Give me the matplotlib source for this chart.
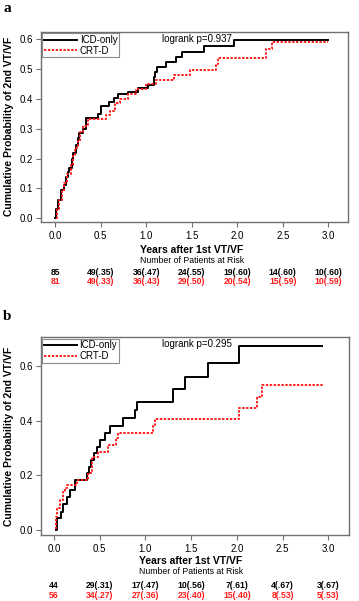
import matplotlib
matplotlib.use("Agg")
import matplotlib.pyplot as plt

plt.rcParams['font.family'] = ['Liberation Sans', 'DejaVu Sans']

# panel a: ICD-only (black) and CRT-D (red) cumulative curves
a_icd_t = [0, 0.01, 0.033, 0.06, 0.10, 0.118, 0.14, 0.154, 0.18, 0.20, 0.227, 0.245, 0.264, 0.30,
           0.337, 0.47, 0.50, 0.59, 0.64, 0.69, 0.80, 0.91, 1.02, 1.08, 1.10, 1.12, 1.22, 1.33,
           1.39, 1.63, 1.96, 3.0]
a_icd_p = [0, 0.033, 0.061, 0.095, 0.11, 0.139, 0.155, 0.167, 0.20, 0.217, 0.245, 0.27, 0.284, 0.30,
           0.336, 0.349, 0.375, 0.389, 0.403, 0.417, 0.424, 0.435, 0.446, 0.474, 0.49, 0.505, 0.523,
           0.538, 0.556, 0.575, 0.595, 0.595]
a_crt_t = [0.01, 0.02, 0.04, 0.07, 0.10, 0.13, 0.17, 0.20, 0.22, 0.245, 0.27, 0.30, 0.36, 0.56,
           0.60, 0.66, 0.71, 0.80, 0.89, 1.00, 1.11, 1.30, 1.48, 1.77, 1.79, 2.32, 2.38, 3.0]
a_crt_p = [0, 0.03, 0.06, 0.09, 0.12, 0.15, 0.18, 0.21, 0.235, 0.26, 0.29, 0.31, 0.333, 0.345,
           0.36, 0.385, 0.40, 0.417, 0.431, 0.448, 0.463, 0.479, 0.496, 0.515, 0.537, 0.565, 0.589, 0.589]

# panel b
b_icd_t = [0.022, 0.03, 0.073, 0.10, 0.139, 0.175, 0.23, 0.357, 0.386, 0.41, 0.4375, 0.467, 0.503,
           0.558, 0.61, 0.75, 0.89, 0.91, 1.30, 1.43, 1.69, 2.02, 2.93]
b_icd_p = [0, 0.043, 0.067, 0.097, 0.122, 0.146, 0.183, 0.207, 0.231, 0.256, 0.28, 0.304, 0.329,
           0.353, 0.38, 0.408, 0.438, 0.469, 0.514, 0.558, 0.609, 0.673, 0.673]
b_crt_t = [0.01, 0.02, 0.036, 0.066, 0.10, 0.12, 0.139, 0.248, 0.375, 0.42, 0.485, 0.59, 0.68,
           0.70, 1.086, 1.10, 2.02, 2.22, 2.27, 2.94]
b_crt_p = [0.006, 0.049, 0.079, 0.11, 0.14, 0.152, 0.164, 0.183, 0.207, 0.268, 0.286, 0.31, 0.335,
           0.355, 0.38, 0.405, 0.444, 0.487, 0.53, 0.53]

x_ticks = [0.0, 0.5, 1.0, 1.5, 2.0, 2.5, 3.0]
a_risk_icd = ['85', '49(.35)', '36(.47)', '24(.55)', '19(.60)', '14(.60)', '10(.60)']
a_risk_crt = ['81', '49(.33)', '36(.43)', '29(.50)', '20(.54)', '15(.59)', '10(.59)']
b_risk_icd = ['44', '29(.31)', '17(.47)', '10(.56)', '7(.61)', '4(.67)', '3(.67)']
b_risk_crt = ['56', '34(.27)', '27(.36)', '23(.40)', '15(.40)', '8(.53)', '5(.53)']

W, H = 359, 601
fig = plt.figure(figsize=(W / 100, H / 100), dpi=100)

RED = '#ff1a1a'
GRAY = '#707070'


def panel(rect, label, label_y, icd_t, icd_p, crt_t, crt_p, xlim, ylim, yticks, pval,
          xlab_y, risk_y1, risk_y2, risk_icd, risk_crt):
    ax = fig.add_axes(rect)
    ax.step(icd_t, icd_p, where='post', color='black', lw=1.4, label='ICD-only')
    ax.step(crt_t, crt_p, where='post', color=RED, lw=1.4, ls=(0, (1.2, 0.8)), label='CRT-D')
    ax.set_xlim(*xlim)
    ax.set_ylim(*ylim)
    ax.set_xticks(x_ticks)
    ax.set_xticklabels(['%.1f' % v for v in x_ticks])
    ax.set_yticks(yticks)
    ax.set_yticklabels(['%.1f' % v for v in yticks])
    ax.tick_params(labelsize=7, length=3.5, color=GRAY, width=0.8, pad=2)
    ax.tick_params(axis='x', pad=3)
    for s in ax.spines.values():
        s.set_color(GRAY)
        s.set_linewidth(1.0)
    leg = ax.legend(loc='upper left', fontsize=7, frameon=True, fancybox=False,
                    borderpad=0.15, handlelength=3.4, handletextpad=0.3, labelspacing=0.1,
                    borderaxespad=0.15)
    leg.get_frame().set_edgecolor(GRAY)
    leg.get_frame().set_linewidth(0.8)
    ax.text(1.56, ylim[1] - (ylim[1] - ylim[0]) * 0.036, 'logrank p=' + pval, fontsize=7,
            ha='center', va='center')
    ax.set_ylabel('Cumulative Probability of 2nd VT/VF', fontsize=7.5, fontweight='bold', labelpad=4)
    fig.text(3 / W, 1 - label_y / H, label, fontsize=11, fontweight='bold', family='Liberation Serif',
             va='center', ha='left')

    # axis title and risk table placed in figure pixel rows
    def xfig(v):
        return ax.transData.transform((v, 0))[0] / W
    fig.text(xfig(1.5), 1 - xlab_y / H, 'Years after 1st VT/VF', fontsize=7.5, fontweight='bold',
             ha='center', va='center')
    fig.text(xfig(1.5), 1 - (xlab_y + 10.5) / H, 'Number of Patients at Risk', fontsize=6.3,
             ha='center', va='center')
    for v, s1, s2 in zip(x_ticks, risk_icd, risk_crt):
        fig.text(xfig(v), 1 - risk_y1 / H, s1, fontsize=6.2, fontweight='bold', ha='center',
                 va='center', color='black')
        fig.text(xfig(v), 1 - risk_y2 / H, s2, fontsize=6.2, fontweight='bold', ha='center',
                 va='center', color=RED)
    return ax


panel([41 / W, 1 - 221.7 / H, 307 / W, (221.7 - 32) / H], 'a', 8,
      a_icd_t, a_icd_p, a_crt_t, a_crt_p, (-0.157, 3.216), (-0.011, 0.623),
      [0.0, 0.1, 0.2, 0.3, 0.4, 0.5, 0.6], '0.937', 249.5, 272.5, 281.5, a_risk_icd, a_risk_crt)
panel([40.7 / W, 1 - 535 / H, 308.6 / W, (535 - 337.3) / H], 'b', 317,
      b_icd_t, b_icd_p, b_crt_t, b_crt_p, (-0.145, 3.23), (-0.018, 0.704),
      [0.0, 0.2, 0.4, 0.6], '0.295', 561.5, 586, 595, b_risk_icd, b_risk_crt)

fig.savefig('out.png', dpi=100)
